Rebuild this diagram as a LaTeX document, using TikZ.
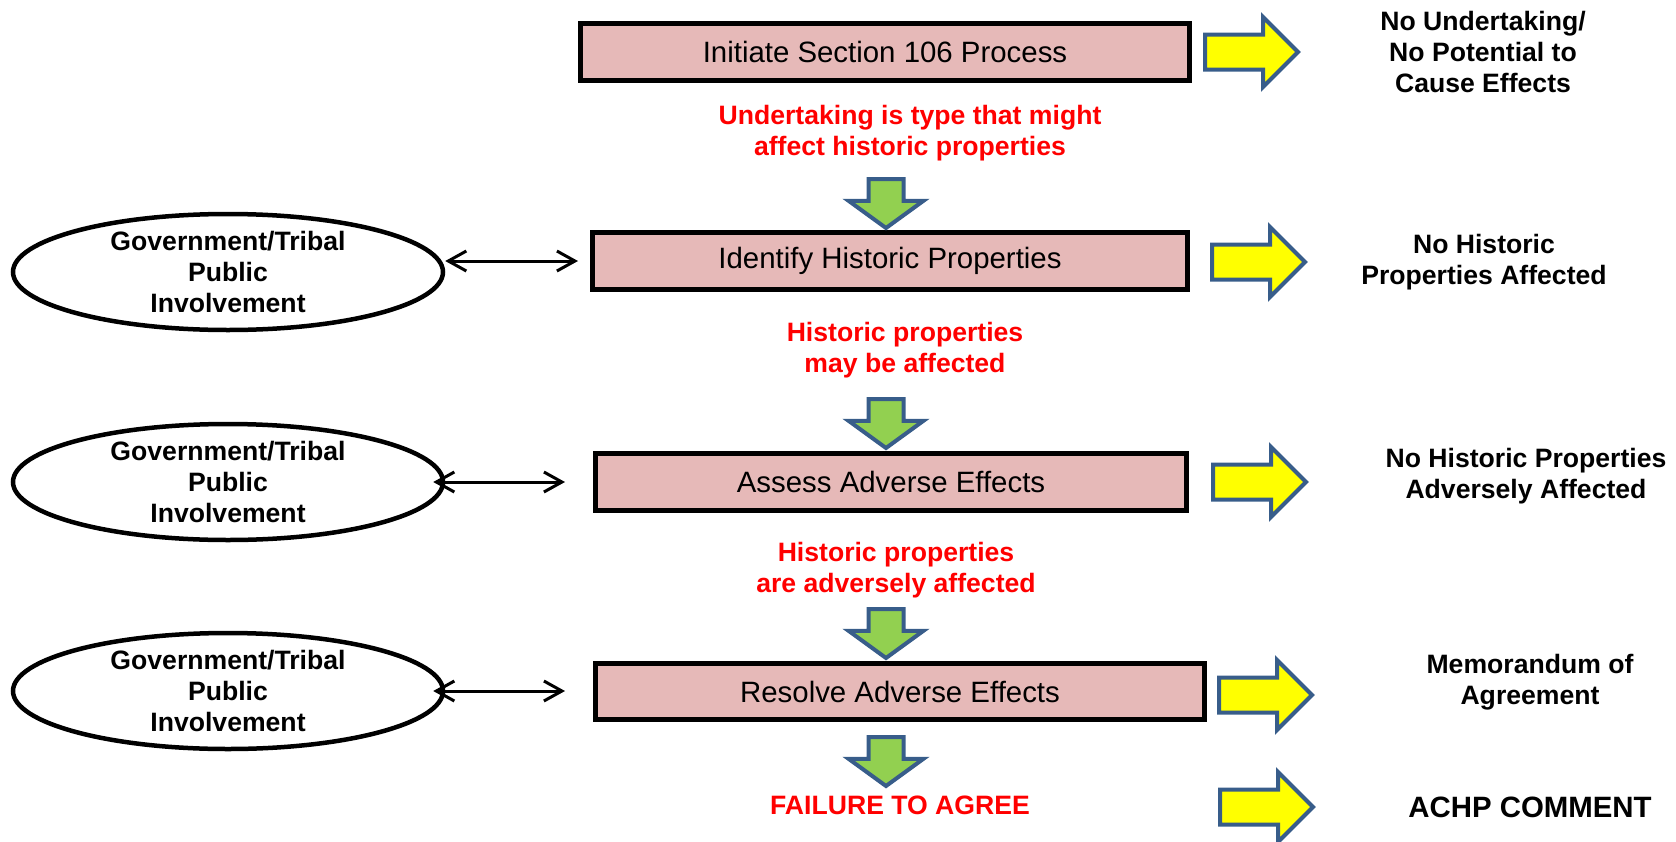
\documentclass[tikz,border=0pt]{standalone}
\usepackage{fontspec}
\setmainfont{Liberation Sans}
\usetikzlibrary{arrows.meta,shapes.geometric,shapes.arrows,positioning}

\definecolor{boxpink}{HTML}{E6B9B8}
\definecolor{arrowblue}{HTML}{385D8A}
\definecolor{arrowgreen}{HTML}{92D050}
\definecolor{arrowyellow}{HTML}{FFFF00}
\definecolor{findred}{HTML}{FF0000}

\begin{document}
\begin{tikzpicture}[x=0.5pt, y=-0.5pt, thick]

\tikzstyle{every node}=[font=\fontsize{13.3}{15.5}\selectfont\bfseries, align=center]
\tikzstyle{stage}=[draw=black, line width=2.5pt, fill=boxpink, minimum height=28.5pt, inner sep=0pt, font=\fontsize{14.7}{17}\selectfont]
\tikzstyle{party}=[ellipse, draw=black, line width=2.25pt, minimum width=215pt, minimum height=58pt, inner sep=-3pt]
\tikzstyle{outcome}=[single arrow, draw=arrowblue, fill=arrowyellow, line width=2pt, inner sep=7.75pt, outer sep=0pt, minimum width=33pt, minimum height=46.5pt, single arrow head extend=8.75pt, single arrow tip angle=90]
\tikzstyle{proceed}=[single arrow, draw=arrowblue, fill=arrowgreen, line width=2pt, inner xsep=7.75pt, inner ysep=0pt, outer sep=0pt, minimum width=35.5pt, minimum height=24.5pt, single arrow head extend=10pt, single arrow tip angle=108, shape border rotate=270]
\tikzstyle{finding}=[text=findred]
\tikzstyle{link}=[{Straight Barb[length=9pt,width=10pt]}-{Straight Barb[length=9pt,width=10pt]}, line width=1.5pt]

\useasboundingbox (0,0) rectangle (1676,841);

\node[stage, minimum width=304.5pt] (initiate) at (885,52) {Initiate Section 106 Process};
\node[stage, minimum width=297.5pt] (identify) at (890,261) {Identify Historic Properties};
\node[stage, minimum width=295.5pt] (assess) at (891,482) {Assess Adverse Effects};
\node[stage, minimum width=304.5pt, minimum height=28pt] (resolve) at (900,691.5) {Resolve Adverse Effects};

\node[finding] (find1) at (910,133.5) {Undertaking is type that might\\affect historic properties};
\node[finding] (find2) at (905,350) {Historic properties\\may be affected};
\node[finding] (find3) at (896,570) {Historic properties\\are adversely affected};
\node[finding] (find4) at (900,805) {FAILURE TO AGREE};

\node[proceed, anchor=tip] (down1) at (886,228) {};
\node[proceed, anchor=tip] (down2) at (886,448) {};
\node[proceed, anchor=tip] (down3) at (886,658) {};
\node[proceed, anchor=tip] (down4) at (886,786) {};

\node[outcome, anchor=tail] (out1) at (1205,52) {};
\node[outcome, anchor=tail] (out2) at (1212,262) {};
\node[outcome, anchor=tail] (out3) at (1213,482) {};
\node[outcome, anchor=tail] (out4) at (1219,695) {};
\node[outcome, anchor=tail] (out5) at (1220,807) {};

\node (res1) at (1483,52) {No Undertaking/\\No Potential to\\Cause Effects};
\node (res2) at (1484,262) {No Historic\\Properties Affected};
\node (res3) at (1526,476) {No Historic Properties\\Adversely Affected};
\node (res4) at (1530,682) {Memorandum of\\Agreement};
\node[font=\fontsize{14.7}{17}\selectfont\bfseries] (res5) at (1530,807) {ACHP COMMENT};

\node[party] (gov1) at (228,272) {Government/Tribal\\Public\\Involvement};
\node[party] (gov2) at (228,482) {Government/Tribal\\Public\\Involvement};
\node[party] (gov3) at (228,691) {Government/Tribal\\Public\\Involvement};

\draw[link, shorten >=6pt] (identify.west -| gov1.east) -- (identify.west);
\draw[link, shorten <=-6pt, shorten >=14pt] (gov2.east) -- (gov2.east -| assess.west);
\draw[link, shorten <=-6pt, shorten >=14pt] (gov3.east) -- (gov3.east -| resolve.west);

\end{tikzpicture}
\end{document}
